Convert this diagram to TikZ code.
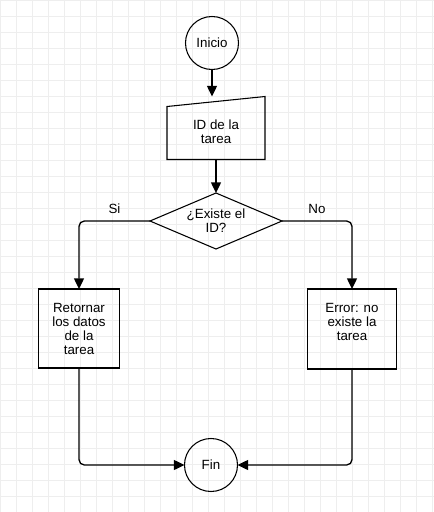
\documentclass[tikz,border=0pt]{standalone}
\usepackage{fontspec}
\setmainfont{Liberation Sans}
\usetikzlibrary{shapes.geometric,arrows.meta}
\definecolor{gridGray}{HTML}{EEEEEE}

\begin{document}
\begin{tikzpicture}[
    x=0.75pt, y=-0.75pt,
    base/.style = {
      line width=0.8pt,
      align=center,
      inner sep=0pt,
      outer sep=0pt,
      font=\fontsize{10}{10.5}\selectfont
    },
    term/.style = {base, draw, circle, minimum size=39.75pt},
    manual/.style = {base, minimum width=73.5pt, minimum height=47.25pt},
    decision/.style = {base, draw, diamond, aspect=2.36, minimum width=99pt, minimum height=42pt},
    process/.style = {base, draw, rectangle},
    tag/.style = {font=\fontsize{10}{10.5}\selectfont, inner sep=2pt},
    arrow/.style = {-{Triangle[length=8pt,width=7.5pt]}, line width=1pt, rounded corners=4pt},
    gridline/.style = {draw=gridGray, line width=0.75pt}
  ]
% background grid
\useasboundingbox (0,0) rectangle (434,512);
\fill[white] (0,0) rectangle (434,512);
\foreach \gx in {0,16,...,432}
  \draw[gridline] (\gx,0) -- (\gx,512);
\foreach \gy in {0,16,...,512}
  \draw[gridline] (0,\gy) -- (434,\gy);

\node[term] (ini) at (212,43) {Inicio};
\node[manual] (id) at (216,128) {\rule{0pt}{13pt}ID de la\\tarea};
\draw[line width=0.8pt] (id.south west) -- ([yshift=-7.5pt]id.north west) -- (id.north east) -- (id.south east) -- cycle;
\node[decision] (dec) at (216,221) {¿Existe el\\ID?};

\node[process, minimum width=60.75pt, minimum height=59.25pt] (ret) at (79,328.5) {Retornar\\los datos\\de la\\tarea};
\node[process, minimum width=66.75pt, minimum height=60pt] (err) at (352,329) {Error: no\\existe la\\tarea\\\mbox{}};

\node[term] (fin) at (211,465) {Fin};

\draw[arrow] (ini) -- (ini |- id.north);
\draw[arrow] (id) -- (dec);
\draw[arrow] (dec.west) -| node[tag, pos=0.25, above=3pt] {Si} (ret.north);
\draw[arrow] (dec.east) -| node[tag, pos=0.25, above=3pt] {No} (err.north);
\draw[arrow] (ret.south) |- (fin.west);
\draw[arrow] (err.south) |- (fin.east);
\end{tikzpicture}
\end{document}
